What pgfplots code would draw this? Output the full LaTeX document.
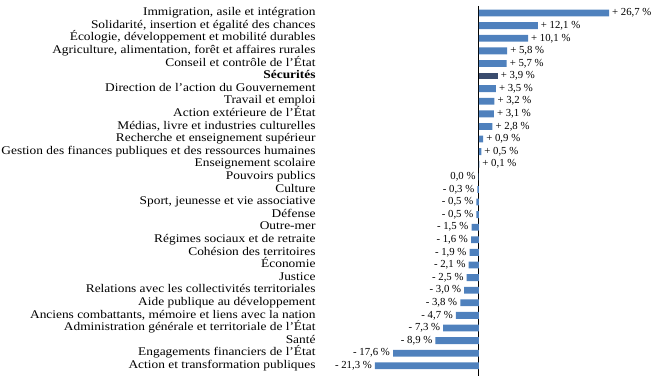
\documentclass[border=0pt]{standalone}
\usepackage{fontspec}
\setmainfont{Liberation Serif}
\newfontfamily\catfont{Liberation Serif}[FakeStretch=1.14]
\usepackage{pgfplots}
\pgfplotsset{compat=1.18}
\usepackage{pgfplotstable}
\definecolor{barblue}{HTML}{4F81BD}
\definecolor{bardark}{HTML}{3A4C6E}

\pgfplotstableread{
i v lab
0 26.7 +~26,7
1 12.1 +~12,1
2 10.1 +~10,1
3 5.8 +~5,8
4 5.7 +~5,7
6 3.5 +~3,5
7 3.2 +~3,2
8 3.1 +~3,1
9 2.8 +~2,8
10 0.9 +~0,9
11 0.5 +~0,5
12 0.1 +~0,1
}\positives

\pgfplotstableread{
i v lab
13 -0.04 0,0
14 -0.3 -~0,3
15 -0.5 -~0,5
16 -0.5 -~0,5
17 -1.5 -~1,5
18 -1.6 -~1,6
19 -1.9 -~1,9
20 -2.1 -~2,1
21 -2.5 -~2,5
22 -3.0 -~3,0
23 -3.8 -~3,8
24 -4.7 -~4,7
25 -7.3 -~7,3
26 -8.9 -~8,9
27 -17.6 -~17,6
28 -21.3 -~21,3
}\negatives

\pgfplotstableread{
i v lab
5 3.9 +~3,9
}\securites

\begin{document}
\begin{tikzpicture}
\begin{axis}[
  scale only axis,
  width=344pt, height=378pt,
  xmin=-32.3, xmax=36.7,
  ymin=-0.57, ymax=28.78,
  y dir=reverse,
  axis line style={draw=none},
  tick style={draw=none},
  xtick=\empty,
  extra x ticks={0},
  extra x tick labels={},
  extra x tick style={grid=major, major grid style={black, line width=0.9pt}},
  ytick={0,...,28},
  yticklabels={
    {Immigration, asile et intégration},
    {Solidarité, insertion et égalité des chances},
    {Écologie, développement et mobilité durables},
    {Agriculture, alimentation, forêt et affaires rurales},
    {Conseil et contrôle de l’État},
    {\textbf{Sécurités}},
    {Direction de l’action du Gouvernement},
    {Travail et emploi},
    {Action extérieure de l’État},
    {Médias, livre et industries culturelles},
    {Recherche et enseignement supérieur},
    {Gestion des finances publiques et des ressources humaines},
    {Enseignement scolaire},
    {Pouvoirs publics},
    {Culture},
    {Sport, jeunesse et vie associative},
    {Défense},
    {Outre-mer},
    {Régimes sociaux et de retraite},
    {Cohésion des territoires},
    {Économie},
    {Justice},
    {Relations avec les collectivités territoriales},
    {Aide publique au développement},
    {Anciens combattants, mémoire et liens avec la nation},
    {Administration générale et territoriale de l’État},
    {Santé},
    {Engagements financiers de l’État},
    {Action et transformation publiques}},
  yticklabel style={font=\catfont\fontsize{12}{12}\selectfont, inner sep=1.5pt,
    anchor=east, text height=8pt, text depth=2.5pt},
  xbar, bar width=7pt, bar shift=0pt,
  point meta=explicit symbolic,
  nodes near coords={\pgfplotspointmeta~\%},
  every node near coord/.append style={font=\fontsize{11}{12}\selectfont, text=black, inner sep=3pt},
  clip=false,
]
\addplot[fill=barblue, draw=none,
  every node near coord/.append style={anchor=west}]
  table[x=v, y=i, meta=lab] {\positives};
\addplot[fill=barblue, draw=none,
  every node near coord/.append style={anchor=east}]
  table[x=v, y=i, meta=lab] {\negatives};
\addplot[fill=bardark, draw=none,
  every node near coord/.append style={anchor=west}]
  table[x=v, y=i, meta=lab] {\securites};
\end{axis}
\path (current axis.north) ++(0,6pt) coordinate (topmargin);
\path (current axis.north) -- (topmargin);
\end{tikzpicture}
\end{document}
